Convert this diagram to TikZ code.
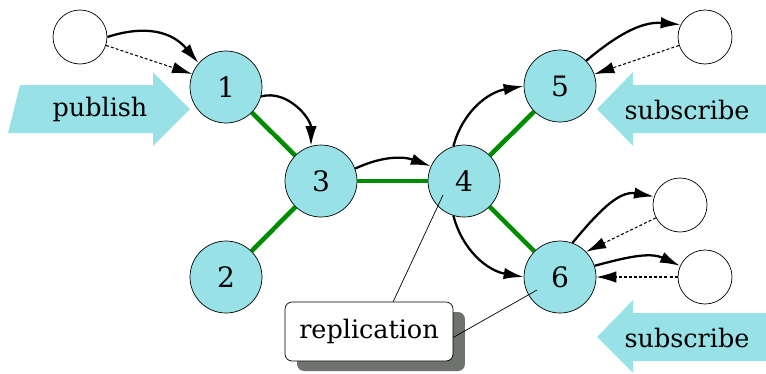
\documentclass[tikz,border=0pt]{standalone}
\usepackage{fontspec}
\setmainfont{DejaVu Serif}
\usetikzlibrary{arrows.meta,shadows}
\definecolor{brokercyan}{RGB}{152,226,231}
\definecolor{linkgreen}{RGB}{0,140,0}
\definecolor{shadowgray}{RGB}{110,115,110}
\tikzset{
  broker/.style={circle,draw,fill=brokercyan,minimum size=1.44cm,inner sep=0pt,
    font=\fontsize{16}{18}\selectfont},
  client/.style={circle,draw,fill=white,minimum size=1.08cm,inner sep=0pt},
  link/.style={linkgreen,line width=2.6pt},
  msg/.style={-{Latex[length=0.4cm,width=0.23cm]},line width=1.3pt},
  ack/.style={-{Latex[length=0.4cm,width=0.23cm]},dash pattern=on 1.7pt off 1.2pt,line width=0.6pt},
  bigtext/.style={font=\fontsize{14.5}{17}\selectfont},
  repbox/.style={draw,fill=white,rounded corners=0.14cm,minimum width=3.36cm,minimum height=1.18cm,
    bigtext,drop shadow={shadow xshift=0.24cm,shadow yshift=-0.2cm,fill=shadowgray,opacity=1}},
}
\begin{document}
\begin{tikzpicture}[x=0.02cm,y=-0.02cm]
  \useasboundingbox (0,0) rectangle (766,373);
  % big arrow on the left: publish
  \fill[brokercyan] (20,85) -- (153,85) -- (153,72) -- (190,109) -- (153,146) -- (153,133) -- (8,133) -- cycle;
  \node[bigtext] (pub) at (100,109) {publish};
  % big arrows on the right: subscribe
  \fill[brokercyan] (766,85) -- (633,85) -- (633,72) -- (597,109) -- (633,146) -- (633,133) -- (766,133) -- cycle;
  \node[bigtext] (sub5) at (687,110) {subscribe};
  \fill[brokercyan] (766,313) -- (633,313) -- (633,300) -- (597,337) -- (633,373) -- (633,361) -- (766,361) -- cycle;
  \node[bigtext] (sub6) at (687,338) {subscribe};
  % brokers
  \node[broker] (n1) at (226,87) {1};
  \node[broker] (n2) at (226,277) {2};
  \node[broker] (n3) at (321,181) {3};
  \node[broker] (n4) at (464,181) {4};
  \node[broker] (n5) at (560,86) {5};
  \node[broker] (n6) at (560,277) {6};
  % clients
  \node[client] (c1) at (80,37) {};
  \node[client] (c5) at (705,37) {};
  \node[client] (c6a) at (680,205) {};
  \node[client] (c6b) at (705,277) {};
  % overlay links between brokers
  \draw[link] (n1) -- (n3);
  \draw[link] (n2) -- (n3);
  \draw[link] (n3) -- (n4);
  \draw[link] (n4) -- (n5);
  \draw[link] (n4) -- (n6);
  % messages and their acks
  \draw[msg] (c1.east) to[out=18,in=130,looseness=1.1] (n1.139);
  \draw[ack] (c1.-18) -- (n1.159);
  \draw[msg] (n1.-15) to[out=15,in=90] (n3.106);
  \draw[msg] (n3.20) to[out=25,in=160] (n4.156);
  \draw[msg] (n4.107) to[out=75,in=190] (n5.180);
  \draw[msg] (n4.253) to[out=-75,in=170] (n6.180);
  \draw[msg] (n5.44) to[out=40,in=175] (c5.153);
  \draw[ack] (c5.198) -- (n5.19);
  \draw[msg] (n6.70) to[out=50,in=170] (c6a.162);
  \draw[ack] (c6a.208) -- (n6.44);
  \draw[msg] (n6.18) to[out=15,in=155] (c6b.156);
  \draw[ack] (c6b.180) -- (n6.0);
  % replication callout
  \node[repbox] (rep) at (369,331.5) {replication};
  \coordinate (tip4) at (443,195);
  \coordinate (tip6) at (537,290);
  \draw (rep.51) -- (tip4);
  \draw (rep.-4) -- (tip6);
\end{tikzpicture}
\end{document}
